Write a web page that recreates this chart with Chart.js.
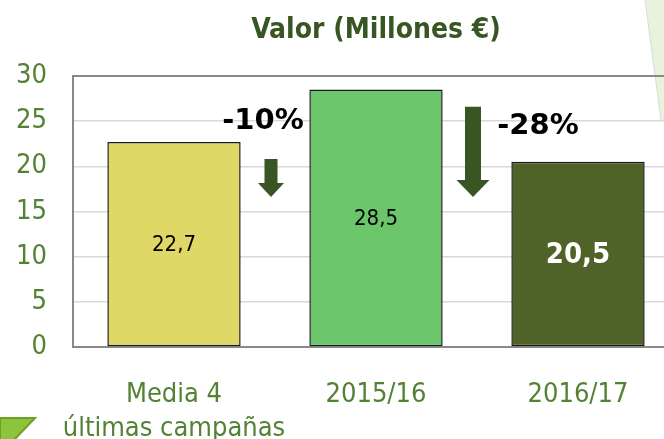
<!DOCTYPE html>
<html>
<head>
<meta charset="utf-8">
<script src="https://cdn.jsdelivr.net/npm/chart.js@4"></script>
<style>
  html, body { margin: 0; padding: 0; background: #fff; overflow: hidden; }
  #wrap { position: absolute; left: 0; top: 0; width: 690px; height: 439px; }
</style>
</head>
<body>
<div id="wrap"><canvas id="valor-chart"></canvas></div>
<script>
// data
const categorias = [['Media 4', 'últimas campañas'], '2015/16', '2016/17'];
const valores = [22.7, 28.5, 20.5];
const colores = ['#e0d866', '#6bc56b', '#4f6228'];
const variaciones = ['-10%', '-28%'];
const ejeMin = 0;
const ejeMax = 30;
const ejePaso = 5;

const FONT = "'DejaVu Sans Condensed', 'DejaVu Sans', sans-serif";
const verde = '#548235';
const verdeOscuro = '#375623';

Chart.defaults.font.family = FONT;

// title + background shapes
const decoPlugin = {
    id: 'deco',
    beforeDraw(chart) {
        const c = chart.ctx;
        c.save();
        c.fillStyle = '#e8f3dc';
        c.beginPath();
        c.moveTo(645, 0); c.lineTo(690, 0); c.lineTo(690, 120); c.lineTo(661, 120);
        c.closePath(); c.fill();
        c.strokeStyle = '#d6dde0';
        c.lineWidth = 1;
        c.beginPath();
        c.moveTo(645, 0); c.lineTo(661, 120);
        c.stroke();
        c.fillStyle = '#8cc43c';
        c.strokeStyle = '#6f9e2c';
        c.lineWidth = 2;
        c.beginPath();
        c.moveTo(0, 418); c.lineTo(35, 418); c.lineTo(14, 440); c.lineTo(0, 440);
        c.closePath(); c.fill(); c.stroke();
        c.fillStyle = verdeOscuro;
        c.font = 'bold 28px ' + FONT;
        c.textAlign = 'center';
        c.textBaseline = 'alphabetic';
        c.fillText('Valor (Millones €)', 376, 38);
        c.restore();
    }
};

// value labels inside the bars
const etiquetasPlugin = {
    id: 'etiquetas',
    afterDatasetsDraw(chart) {
        const c = chart.ctx;
        const meta = chart.getDatasetMeta(0);
        c.save();
        c.textAlign = 'center';
        c.textBaseline = 'middle';
        meta.data.forEach((bar, i) => {
            const txt = valores[i].toFixed(1).replace('.', ',');
            const y = (bar.y + bar.base) / 2;
            if (i === 2) {
                c.fillStyle = '#ffffff';
                c.font = 'bold 29px ' + FONT;
            } else {
                c.fillStyle = '#000000';
                c.font = '22px ' + FONT;
            }
            c.fillText(txt, bar.x, y + 1);
        });
        c.restore();
    }
};

// down arrows and % change between bars
const flechasPlugin = {
    id: 'flechas',
    afterDraw(chart) {
        const c = chart.ctx;
        const y = chart.scales.y;
        const meta = chart.getDatasetMeta(0);
        const arriba = [20.8, 26.6];
        const shaft = [13, 16];
        const head = [26, 33];
        const headH = [14, 17];
        const textoDx = [-12, 61];
        const textoVal = [25.0, 24.4];
        c.save();
        for (let i = 0; i < variaciones.length; i++) {
            const mid = (meta.data[i].x + meta.data[i + 1].x) / 2 - 4;
            const top = y.getPixelForValue(arriba[i]);
            const tip = y.getPixelForValue(16.6);
            c.fillStyle = verdeOscuro;
            c.beginPath();
            c.moveTo(mid - shaft[i] / 2, top);
            c.lineTo(mid + shaft[i] / 2, top);
            c.lineTo(mid + shaft[i] / 2, tip - headH[i]);
            c.lineTo(mid + head[i] / 2, tip - headH[i]);
            c.lineTo(mid, tip);
            c.lineTo(mid - head[i] / 2, tip - headH[i]);
            c.lineTo(mid - shaft[i] / 2, tip - headH[i]);
            c.closePath();
            c.fill();
            c.fillStyle = '#000000';
            c.font = "bold 29px 'DejaVu Sans', sans-serif";
            c.textAlign = 'center';
            c.textBaseline = 'middle';
            c.fillText(variaciones[i], mid + 4 + textoDx[i], y.getPixelForValue(textoVal[i]));
        }
        c.restore();
    }
};

new Chart(document.getElementById('valor-chart'), {
    type: 'bar',
    data: {
        labels: categorias,
        datasets: [{
            data: valores,
            backgroundColor: colores,
            borderColor: '#1a1a1a',
            borderWidth: 1.5,
            borderSkipped: false,
            barPercentage: 0.66,
            categoryPercentage: 1
        }]
    },
    options: {
        responsive: true,
        maintainAspectRatio: false,
        animation: false,
        layout: { padding: { left: 17, right: 11, top: 76, bottom: 0 } },
        plugins: {
            legend: { display: false },
            title: { display: false },
            tooltip: { enabled: false }
        },
        scales: {
            x: {
                grid: { display: false },
                border: { display: true, color: '#898989', width: 2 },
                ticks: {
                    color: verde,
                    font: { size: 27, lineHeight: 1.25 },
                    padding: 23,
                    maxRotation: 0,
                    autoSkip: false
                },
                afterFit(scale) {
                    scale.height = 92;
                    scale.paddingLeft = 0;
                    scale.paddingRight = 0;
                }
            },
            y: {
                min: ejeMin,
                max: ejeMax,
                grid: {
                    color: ctx => (ctx.tick && ctx.tick.value === ejeMax ? '#898989' : '#d9d9d9'),
                    lineWidth: ctx => (ctx.tick && ctx.tick.value === ejeMax ? 2 : 1.5),
                    drawTicks: false
                },
                border: { display: true, color: '#898989', width: 2 },
                ticks: {
                    stepSize: ejePaso,
                    color: verde,
                    font: { size: 27 },
                    padding: 26
                },
                afterFit(scale) {
                    scale.width = 56;
                }
            }
        }
    },
    plugins: [decoPlugin, etiquetasPlugin, flechasPlugin]
});
</script>
</body>
</html>
